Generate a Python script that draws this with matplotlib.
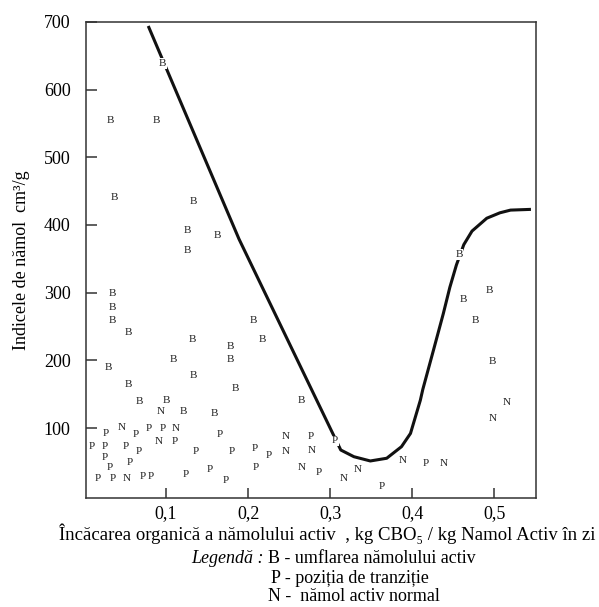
import matplotlib
matplotlib.use("Agg")
import matplotlib.pyplot as plt

plt.rcParams["font.family"] = ["Liberation Serif", "DejaVu Serif"]

# B - umflarea namolului activ
b_x = [0.096, 0.032, 0.088, 0.037, 0.133, 0.126, 0.162, 0.126, 0.035, 0.034, 0.034,
       0.054, 0.132, 0.179, 0.206, 0.217, 0.109, 0.179, 0.030, 0.133, 0.185, 0.054,
       0.068, 0.100, 0.121, 0.159, 0.265, 0.457, 0.494, 0.463, 0.477, 0.498]
b_y = [639, 554, 554, 440, 435, 392, 385, 363, 299, 278, 259,
       241, 231, 221, 259, 231, 201, 201, 189, 178, 158, 165,
       139, 141, 125, 122, 141, 356, 303, 290, 259, 198]

# P - pozitia de tranzitie
p_x = [0.026, 0.063, 0.079, 0.096, 0.111, 0.165, 0.009, 0.025, 0.051, 0.067, 0.136,
       0.180, 0.208, 0.225, 0.276, 0.306, 0.025, 0.056, 0.032, 0.017, 0.035, 0.072,
       0.082, 0.124, 0.153, 0.173, 0.209, 0.286, 0.363, 0.417]
p_y = [92, 91, 99, 100, 80, 90, 72, 73, 73, 65, 66,
       66, 69, 59, 87, 81, 56, 49, 41, 25, 25, 29,
       29, 31, 39, 22, 41, 34, 14, 47]

# N - namol activ normal
n_x = [0.094, 0.046, 0.112, 0.091, 0.246, 0.246, 0.278, 0.052, 0.266, 0.317, 0.334,
       0.388, 0.438, 0.515, 0.498]
n_y = [124, 101, 100, 80, 87, 66, 67, 25, 41, 26, 38,
       52, 47, 138, 114]

# boundary curve
curve_x = [0.079, 0.189, 0.302, 0.313, 0.329, 0.349, 0.369, 0.387, 0.398, 0.410, 0.413,
           0.426, 0.438, 0.446, 0.454, 0.463, 0.473, 0.491, 0.507, 0.520, 0.543]
curve_y = [692, 379, 95, 67.5, 57.6, 51.3, 55.3, 72.4, 92, 141, 157,
           215, 269, 308, 341, 371, 391, 410, 418, 422, 423]

x_ticks = [0.1, 0.2, 0.3, 0.4, 0.5]
x_tick_labels = ["0,1", "0,2", "0,3", "0,4", "0,5"]
y_ticks = [100, 200, 300, 400, 500, 600, 700]

fig = plt.figure(figsize=(5.99, 6.07), dpi=100)
ax = fig.add_axes([0.1436, 0.1796, 0.7512, 0.7842])

ax.plot(curve_x, curve_y, color="#111111", linewidth=2.2, solid_joinstyle="round", zorder=2)

for xs, ys, letter in [(b_x, b_y, "B"), (p_x, p_y, "P"), (n_x, n_y, "N")]:
    for x, y in zip(xs, ys):
        ax.text(x, y, letter, ha="center", va="center", fontsize=8, color="#222222", zorder=3,
                bbox=dict(facecolor="white", edgecolor="none", pad=0.6))

ax.set_xlim(0.0024, 0.551)
ax.set_ylim(-3.4, 700)
ax.set_xticks(x_ticks)
ax.set_xticklabels(x_tick_labels)
ax.set_yticks(y_ticks)

ax.tick_params(axis="both", direction="in", labelsize=13, color="#333333", width=1.1)
ax.tick_params(axis="x", length=7, pad=5)
ax.tick_params(axis="y", length=8, pad=11)
for spine in ax.spines.values():
    spine.set_linewidth(1.1)
    spine.set_color("#333333")

ax.set_ylabel("Indicele de nămol  cm³/g", fontsize=13, labelpad=10)

fig.text(0.546, 0.121, "Încăcarea organică a nămolului activ  , kg CBO₅ / kg Namol Activ în zi",
         ha="center", va="center", fontsize=13.5)
fig.text(0.441, 0.080, "Legendă :", ha="right", va="center", fontsize=13, style="italic")
fig.text(0.447, 0.080, "B - umflarea nămolului activ", ha="left", va="center", fontsize=13)
fig.text(0.452, 0.047, "P - poziția de tranziție", ha="left", va="center", fontsize=13)
fig.text(0.447, 0.017, "N -  nămol activ normal", ha="left", va="center", fontsize=13)

fig.savefig("out.png", dpi=100)
